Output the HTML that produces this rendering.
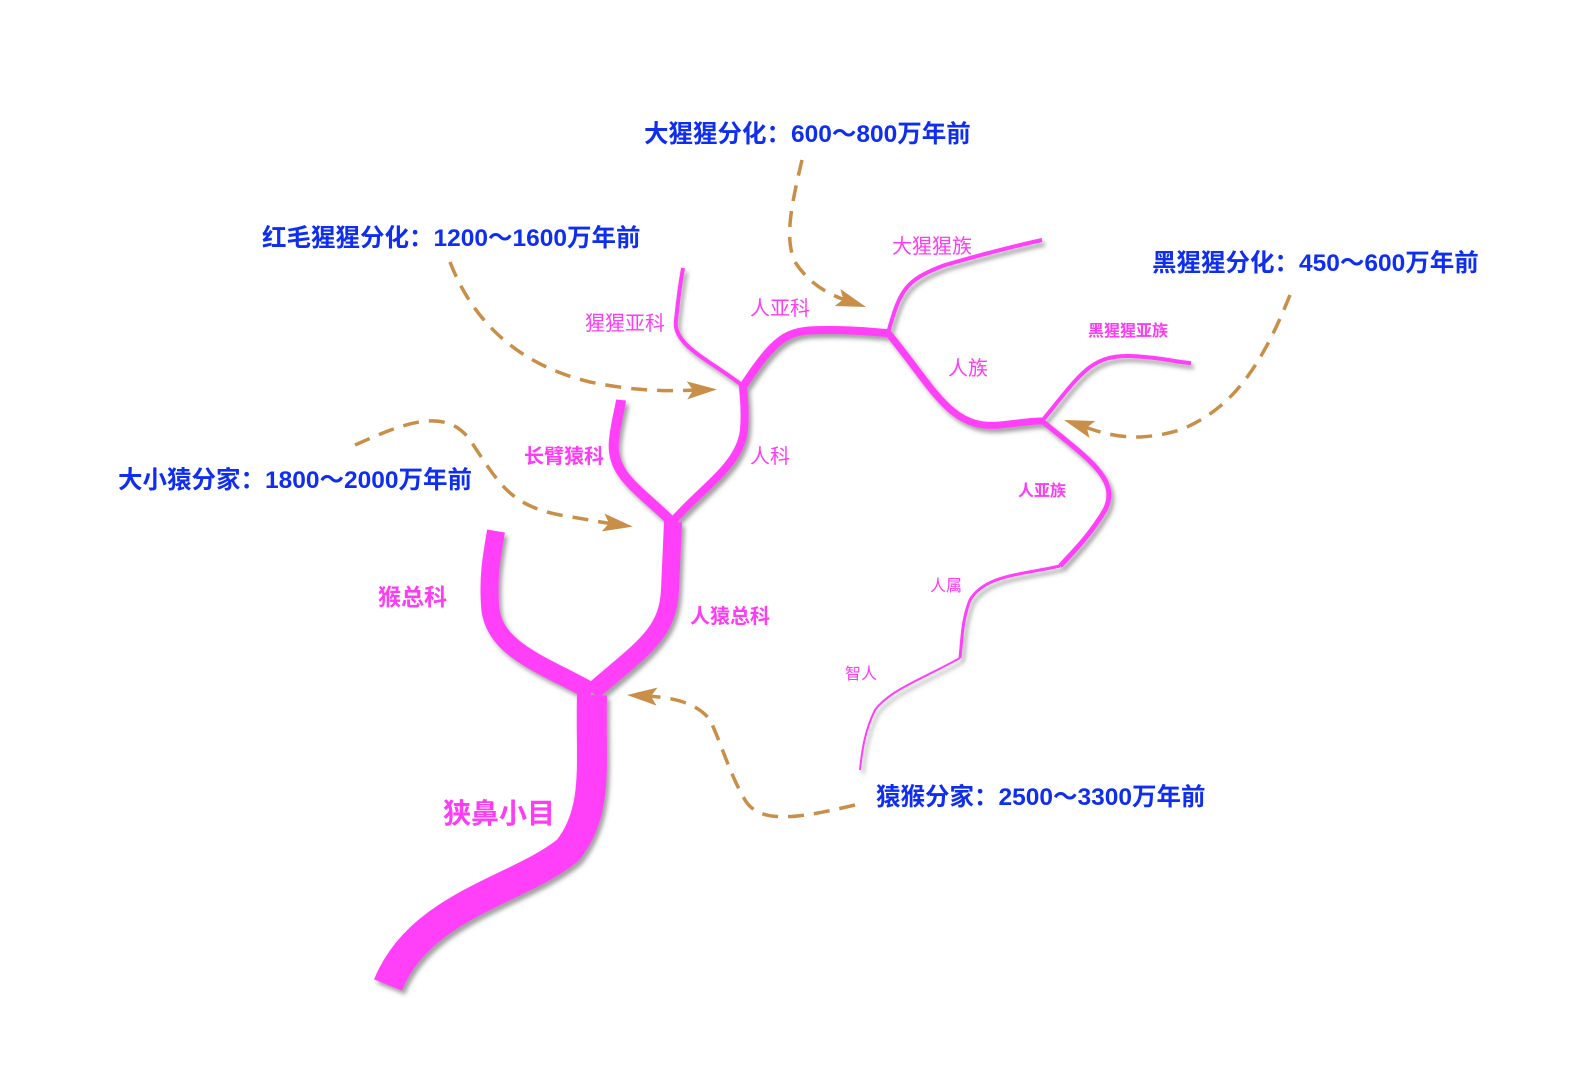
<!DOCTYPE html>
<html><head><meta charset="utf-8"><style>
html,body{margin:0;padding:0;background:#fff;}
svg{display:block;}
.b{font-family:"Liberation Sans","Noto Sans CJK SC",sans-serif;font-weight:bold;fill:#0f2ef0;font-size:24.5px;}
.p{font-family:"Liberation Sans","Noto Sans CJK SC",sans-serif;fill:#ff3cf5;}
</style></head><body>
<svg width="1580" height="1066" viewBox="0 0 1580 1066" xmlns="http://www.w3.org/2000/svg">
<defs>
<filter id="sh" x="-20%" y="-20%" width="140%" height="140%">
<feDropShadow dx="3" dy="4" stdDeviation="2" flood-color="#555" flood-opacity="0.55"/>
</filter>
<marker id="ar" markerWidth="10" markerHeight="10" refX="5" refY="5" orient="auto" markerUnits="userSpaceOnUse" viewBox="0 0 10 10" style="overflow:visible">
<path d="M-6,-4 L24,5 L-6,14 L0,5 Z" fill="#c98f48"/>
</marker>
</defs>
<g fill="none" stroke="#ff40f8" stroke-linecap="butt" filter="url(#sh)">
<path d="M388,985 C420,905 520,890 568,850 C600,810 590,760 592,695" stroke-width="30"/>
<path d="M592,692 C545,665 492,650 490,605 C488,575 492,555 496,531" stroke-width="18"/>
<path d="M592,692 C640,650 668,635 670,590 L673,522" stroke-width="18"/>
<path d="M672,522 C640,490 610,475 614,440 C616,420 620,410 621,400" stroke-width="10"/>
<path d="M672,522 C705,485 740,465 744,430 C746,405 743,395 743,385" stroke-width="8"/>
<path d="M743,386 C710,360 672,345 676,320 C678,300 680,285 683,268" stroke-width="4"/>
<path d="M742,388 C780,330 790,330 830,330 C860,330 870,332 888,333" stroke-width="8"/>
<path d="M888,333 C900,290 905,280 945,265 C980,255 1010,247 1042,240" stroke-width="4"/>
<path d="M888,333 C935,390 950,430 1000,425 C1020,423 1030,421 1042,421" stroke-width="7"/>
<path d="M1042,421 C1080,375 1090,355 1130,356 C1160,357 1175,362 1191,363" stroke-width="4"/>
<path d="M1042,421 C1090,460 1120,480 1105,510 C1090,535 1075,550 1060,566" stroke-width="5"/>
<path d="M1060,566 C1020,575 985,575 970,600 C962,620 962,640 960,658" stroke-width="3"/>
<path d="M960,658 C920,680 890,690 875,710 C865,730 862,750 860,770" stroke-width="2"/>
</g>
<g fill="none" stroke="#c98f48" stroke-width="3.5" stroke-dasharray="16,10">
<path d="M802,160 C790,210 785,240 795,262 C810,285 830,295 848,301" marker-end="url(#ar)"/>
<path d="M450,262 C480,340 540,370 590,382 C640,392 670,391 698,390" marker-end="url(#ar)"/>
<path d="M355,445 C400,425 445,405 470,440 C500,485 510,505 560,515 C590,520 600,522 614,524" marker-end="url(#ar)"/>
<path d="M1290,295 C1260,370 1230,410 1180,430 C1130,445 1100,432 1082,426" marker-end="url(#ar)"/>
<path d="M855,805 C800,818 760,825 745,800 C730,775 720,740 710,720 C695,700 665,697 646,696" marker-end="url(#ar)"/>
</g>
<text class="b" x="644" y="142">大猩猩分化：600～800万年前</text>
<text class="b" x="262" y="246">红毛猩猩分化：1200～1600万年前</text>
<text class="b" x="1152" y="271">黑猩猩分化：450～600万年前</text>
<text class="b" x="118" y="488">大小猿分家：1800～2000万年前</text>
<text class="b" x="876" y="805">猿猴分家：2500～3300万年前</text>
<text class="p" x="892" y="253" font-size="20">大猩猩族</text>
<text class="p" x="750" y="315" font-size="20">人亚科</text>
<text class="p" x="585" y="330" font-size="20">猩猩亚科</text>
<text class="p" x="1088" y="336" font-size="16" font-weight="bold">黑猩猩亚族</text>
<text class="p" x="948" y="375" font-size="20">人族</text>
<text class="p" x="524" y="463" font-size="20" font-weight="bold">长臂猿科</text>
<text class="p" x="750" y="463" font-size="20">人科</text>
<text class="p" x="1018" y="496" font-size="16" font-weight="bold">人亚族</text>
<text class="p" x="930" y="591" font-size="16">人属</text>
<text class="p" x="378" y="605" font-size="23" font-weight="bold">猴总科</text>
<text class="p" x="690" y="623" font-size="20" font-weight="bold">人猿总科</text>
<text class="p" x="845" y="679" font-size="16">智人</text>
<text class="p" x="443" y="823" font-size="28" font-weight="bold">狭鼻小目</text>
</svg>
</body></html>
